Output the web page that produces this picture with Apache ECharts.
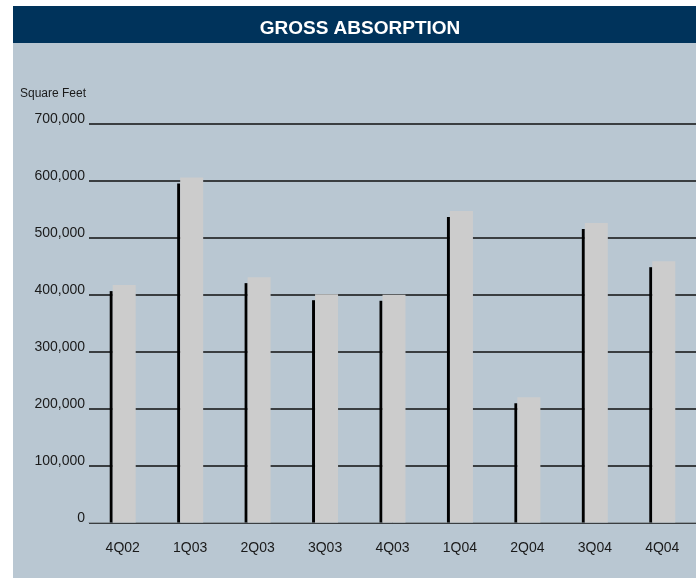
<!DOCTYPE html>
<html>
<head>
<meta charset="utf-8">
<script src="https://cdn.jsdelivr.net/npm/echarts@6/dist/echarts.min.js"></script>
<style>
  html, body { margin: 0; padding: 0; background: #ffffff; }
  #wrap { position: relative; width: 696px; height: 579px; }
  #panel { position: absolute; left: 13px; top: 43px; width: 683px; height: 535px; background: #b9c7d2; }
  #band { position: absolute; left: 13px; top: 6px; width: 683px; height: 37px; background: #00335b; }
  #chart { position: absolute; left: 0; top: 0; width: 696px; height: 579px; }
</style>
</head>
<body>
<div id="wrap">
  <div id="band"></div>
  <div id="panel"></div>
  <div id="chart"></div>
</div>
<script>
const titleText = 'GROSS ABSORPTION';
const yAxisTitle = 'Square Feet';
const categories = ['4Q02', '1Q03', '2Q03', '3Q03', '4Q03', '1Q04', '2Q04', '3Q04', '4Q04'];
const absorption = [417000, 606000, 431000, 401000, 400000, 547000, 220000, 526000, 459000];
const yTicks = [0, 100000, 200000, 300000, 400000, 500000, 600000, 700000];

const chart = echarts.init(document.getElementById('chart'), null, { renderer: 'canvas' });
const font = 'Liberation Sans, Arial, Helvetica, sans-serif';

chart.setOption({
  animation: false,
  backgroundColor: 'transparent',
  title: {
    text: titleText,
    left: 355,
    top: 14,
    textAlign: 'center',
    textStyle: { color: '#ffffff', fontFamily: font, fontWeight: 'bold', fontSize: 19 }
  },
  grid: { left: 89, top: 124, width: 608, height: 398.5, containLabel: false },
  xAxis: {
    type: 'category',
    data: categories,
    axisLine: { show: true, lineStyle: { color: '#8f999f', width: 1 } },
    axisTick: { show: false },
    axisLabel: { color: '#1a1a1a', fontFamily: font, fontSize: 14, margin: 19 },
    splitLine: { show: false }
  },
  yAxis: {
    type: 'value',
    min: yTicks[0],
    max: yTicks[yTicks.length - 1],
    interval: yTicks[1] - yTicks[0],
    name: yAxisTitle,
    nameLocation: 'end',
    nameGap: 30,
    nameTextStyle: { color: '#1a1a1a', fontFamily: font, fontSize: 12, align: 'right', verticalAlign: 'middle', padding: [0, 3, 0, 0] },
    axisLine: { show: false },
    axisTick: { show: false },
    axisLabel: {
      color: '#1a1a1a', fontFamily: font, fontSize: 14, margin: 4,
      verticalAlign: 'bottom', lineHeight: 9,
      formatter: v => v.toLocaleString('en-US')
    },
    splitLine: { show: true, lineStyle: { color: '#111111', width: 1.5 } }
  },
  series: [{
    type: 'custom',
    data: categories.map((c, i) => [i, absorption[i]]),
    encode: { x: 0, y: 1 },
    renderItem: function (params, api) {
      const topPt = api.coord([api.value(0), api.value(1)]);
      const basePt = api.coord([api.value(0), 0]);
      const c = topPt[0];
      const top = topPt[1];
      const bottom = basePt[1];
      const depth = 6;
      return {
        type: 'group',
        children: [
          { type: 'rect', shape: { x: c - 13, y: top + depth, width: 3, height: bottom - top - depth }, style: { fill: '#000000' } },
          { type: 'rect', shape: { x: c - 10, y: top, width: 23, height: bottom - top }, style: { fill: '#cccccc' } }
        ]
      };
    }
  }]
});
</script>
</body>
</html>
